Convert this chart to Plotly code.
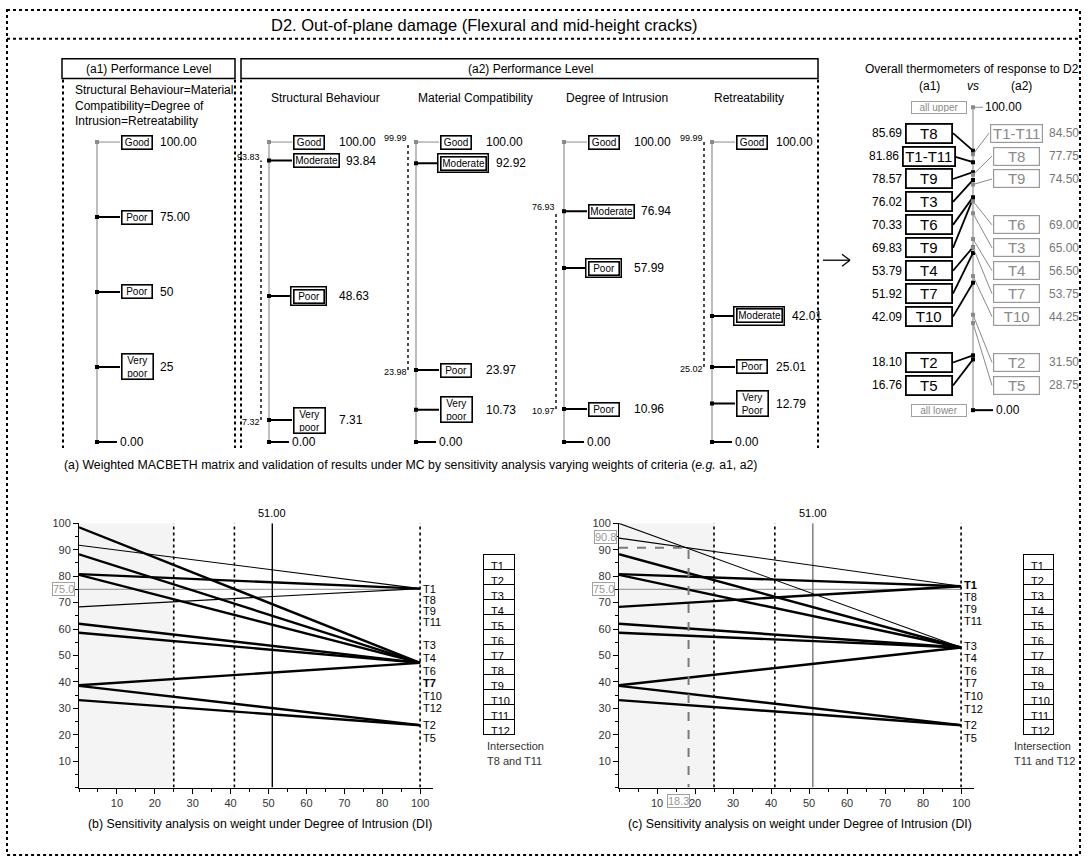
import plotly.graph_objects as go

W, H = 1088, 861
FONT = "Liberation Sans, Arial, Helvetica, sans-serif"

# ----------------------------- data -----------------------------
TITLE = "D2. Out-of-plane damage (Flexural and mid-height cracks)"

A1_LEVELS = ["Good", "Poor", "Poor", "Very<br>poor"]
A1_SCORES = [100, 75, 50, 25]
A1_VALUE_TEXT = ["100.00", "75.00", "50", "25"]

CRITERIA = ["Structural Behaviour", "Material Compatibility", "Degree of Intrusion", "Retreatability"]
SB_LEVELS = ["Good", "Moderate", "Poor", "Very<br>poor"]
SB_SCORES = [100.00, 93.84, 48.63, 7.31]
MC_LEVELS = ["Good", "Moderate", "Poor", "Very<br>poor"]
MC_SCORES = [100.00, 92.92, 23.97, 10.73]
DI_LEVELS = ["Good", "Moderate", "Poor", "Poor"]
DI_SCORES = [100.00, 76.94, 57.99, 10.96]
RT_LEVELS = ["Good", "Moderate", "Poor", "Very<br>Poor"]
RT_SCORES = [100.00, 42.01, 25.01, 12.79]
CURRENT_IDX = [2, 1, 2, 1]            # level highlighted with a double frame
INTERVAL_HI = [93.83, 99.99, 76.93, 99.99]
INTERVAL_LO = [7.32, 23.98, 10.97, 25.02]

OV_A1_LABELS = ["T8", "T1-T11", "T9", "T3", "T6", "T9", "T4", "T7", "T10", "T2", "T5"]
OV_A1_SCORES = [85.69, 81.86, 78.57, 76.02, 70.33, 69.83, 53.79, 51.92, 42.09, 18.10, 16.76]
OV_A2_LABELS = ["T1-T11", "T8", "T9", "T6", "T3", "T4", "T7", "T10", "T2", "T5"]
OV_A2_SCORES = [84.50, 77.75, 74.50, 69.00, 65.00, 56.50, 53.75, 44.25, 31.50, 28.75]

# sensitivity analysis: overall score at weight 0 and at weight 100
WEIGHT_MIN, WEIGHT_MAX = 0, 100
B_START = [98.5, 91.7, 88.3, 80.8, 80.5, 68.4, 62.0, 58.6, 38.7, 38.5, 33.1]
B_END = [47.2, 75.3, 47.2, 75.3, 47.2, 75.3, 47.2, 47.2, 47.2, 23.6, 23.6]
B_THIN = [False, True, False, False, False, True, False, False, False, False, False]
C_START = [100.0, 94.4, 88.3, 80.8, 80.5, 68.4, 62.0, 58.6, 38.7, 38.5, 33.1]
C_END = [53.0, 76.2, 53.0, 76.2, 53.0, 76.2, 53.0, 53.0, 53.0, 23.6, 23.6]
C_THIN = [True, True, False, False, False, False, False, False, False, False, False]
CURRENT_WEIGHT = 51.0
WEIGHT_THRESHOLDS = [25, 41]
REF_SCORE = 75.0
C_INTERSECT_W = 18.3
C_INTERSECT_S = 90.8
END_LABEL_GROUPS = [["T1", "T8", "T9", "T11"],
                    ["T3", "T4", "T6", "T7", "T10", "T12"],
                    ["T2", "T5"]]
B_GROUP_ENDS = [75.3, 47.2, 23.6]
C_GROUP_ENDS = [76.2, 53.0, 23.6]
OPTIONS = ["T%d" % i for i in range(1, 13)]
X_TICKS = [10, 20, 30, 40, 50, 60, 70, 80, 100]
Y_TICKS = [10, 20, 30, 40, 50, 60, 70, 80, 90, 100]

# ----------------------------- layout constants -----------------------------
COL_AXIS_X = [97, 269, 416, 564, 712]      # pixel x of each thermometer
TOP_ZERO_PX, TOP_PX_PER = 439, 3.02       # score 0 pixel row, px per score unit
OV_AXIS_X, OV_ZERO_PX, OV_PX_PER = 973, 407, 3.05
LEFT_SLOTS = [0, 1, 2, 3, 4, 5, 6, 7, 8, 10, 11]
RIGHT_SLOTS = [0, 1, 2, 4, 5, 6, 7, 8, 10, 11]
SLOT_TOP_PX, SLOT_STEP_PX = 128, 23.1
DY = -4                  # vertical nudge of the upper panel texts/frames
AXIS_BREAK = 80          # weight axis is compressed 2:1 above this weight (as in the original)


def wpos(w):
    """Position of a weight on the (compressed above 80) horizontal axis."""
    return w if w <= AXIS_BREAK else AXIS_BREAK + (w - AXIS_BREAK) / 2.0


fig = go.Figure()
annotations, shapes = [], []


def add_ann(x, y, text, size=12, color="black", xanchor="center", yanchor="middle",
            xref="paper", yref="paper", **kw):
    if xref == "paper":
        x = x / W
    if yref == "paper":
        y = 1 - y / H
    annotations.append(dict(x=x, y=y, xref=xref, yref=yref, text=text, showarrow=False,
                            xanchor=xanchor, yanchor=yanchor,
                            font=dict(family=FONT, size=size, color=color), **kw))


def paper_line(x0, y0, x1, y1, width=2, dash="dot", color="black"):
    shapes.append(dict(type="line", xref="paper", yref="paper", x0=x0 / W, y0=1 - y0 / H,
                       x1=x1 / W, y1=1 - y1 / H, line=dict(color=color, width=width, dash=dash)))


def paper_rect(x0, y0, x1, y1, width=1.5, dash="solid"):
    shapes.append(dict(type="rect", xref="paper", yref="paper", x0=x0 / W, y0=1 - y0 / H,
                       x1=x1 / W, y1=1 - y1 / H, line=dict(color="black", width=width, dash=dash)))


def seg(xs, ys, xa, ya, color="black", width=1.0, dash="solid", mode="lines", marker=None):
    fig.add_trace(go.Scatter(x=xs, y=ys, xaxis=xa, yaxis=ya, mode=mode,
                             line=dict(color=color, width=width, dash=dash),
                             marker=marker or dict(size=1), hoverinfo="skip", showlegend=False))


# ----------------------------- frames and titles -----------------------------
paper_rect(7, 8 + DY, 1080, 855, width=2, dash="dot")
paper_line(7, 37 + DY, 1080, 37 + DY)
add_ann(484, 23 + DY, TITLE, size=16.5)
paper_rect(62, 57 + DY, 235, 77 + DY)
paper_rect(241, 57 + DY, 818, 77 + DY)
add_ann(148, 67 + DY, "(a1) Performance Level", size=12)
add_ann(530, 67 + DY, "(a2) Performance Level", size=12)
for vx in [63, 235, 241, 818]:
    paper_line(vx, 78 + DY, vx, 445)
add_ann(73, 80 + DY, "Structural Behaviour=Material<br>Compatibility=Degree of<br>Intrusion=Retreatability",
        size=12, xanchor="left", yanchor="top", align="left")
for cx, name in zip(COL_AXIS_X[1:], CRITERIA):
    add_ann(cx, 97 + DY, name, size=12, xanchor="left")
add_ann(62, 466 + DY, "(a) Weighted MACBETH matrix and validation of results under MC by sensitivity "
        "analysis varying weights of criteria (<i>e.g.</i> a1, a2)", size=12.3, xanchor="left")

# ----------------------------- thermometer columns -----------------------------
BOX_W = {"Good": 27, "Moderate": 42, "Poor": 27, "Very<br>poor": 28, "Very<br>Poor": 28}


def column(ax_x, levels, scores, value_text, current=None, lo=None, hi=None, value_dx=68):
    seg([ax_x, ax_x], [0, 100], "x", "y", color="#9a9a9a", width=1.3)
    for i, (lev, s, vt) in enumerate(zip(levels, scores, value_text)):
        top = i == 0
        col = "#8a8a8a" if top else "black"
        seg([ax_x, ax_x + 23], [s, s], "x", "y", color=col, width=1 if top else 2)
        seg([ax_x], [s], "x", "y", mode="markers",
            marker=dict(symbol="square", size=4, color=col))
        w = BOX_W[lev]
        two = "<br>" in lev
        h = 22 if two else 10
        tot = w + 6
        cx = ax_x + 23 + tot / 2
        is_cur = current is not None and i == current
        if is_cur:
            annotations.append(dict(x=cx, y=s, xref="x", yref="y", text="", showarrow=False,
                                    width=w + 5, height=h + 5, borderpad=1, borderwidth=1.5,
                                    bordercolor="black", bgcolor="white"))
        annotations.append(dict(x=cx, y=s, xref="x", yref="y", text=lev, showarrow=False,
                                width=w, height=h, borderpad=1, borderwidth=1.6,
                                bordercolor="black", bgcolor="white",
                                font=dict(family=FONT, size=10, color="black")))
        right = ax_x + 23 + tot + (3 if is_cur else 0)
        vx = max(ax_x + value_dx, right + 4)
        add_ann(vx, s, vt, size=12, xanchor="left", xref="x", yref="y")
    seg([ax_x, ax_x + 20], [0, 0], "x", "y", color="black", width=2)
    seg([ax_x], [0], "x", "y", mode="markers", marker=dict(symbol="square", size=4, color="black"))
    add_ann(ax_x + 21, 0, "0.00", size=12, xanchor="left", xref="x", yref="y")
    if lo is not None:
        dx = ax_x - 8
        seg([dx, dx], [lo, hi], "x", "y", color="black", width=1.4, dash="dot")
        add_ann(dx + 1, hi, "%.2f" % hi, size=9, xanchor="right", xref="x", yref="y", yshift=4)
        add_ann(dx + 1, lo, "%.2f" % lo, size=9, xanchor="right", xref="x", yref="y", yshift=-2)


column(COL_AXIS_X[0], A1_LEVELS, A1_SCORES, A1_VALUE_TEXT, value_dx=61)
for k, (lv, sc) in enumerate([(SB_LEVELS, SB_SCORES), (MC_LEVELS, MC_SCORES),
                              (DI_LEVELS, DI_SCORES), (RT_LEVELS, RT_SCORES)]):
    column(COL_AXIS_X[k + 1], lv, sc, ["%.2f" % v for v in sc], current=CURRENT_IDX[k],
           lo=INTERVAL_LO[k], hi=INTERVAL_HI[k], value_dx=62 if k == 3 else 68)

# ----------------------------- overall thermometer -----------------------------
add_ann(972, 67 + DY, "Overall thermometers of response to D2", size=12)
add_ann(929, 85 + DY, "(a1)", size=12)
add_ann(973, 85 + DY, "<i>vs</i>", size=12)
add_ann(1021, 85 + DY, "(a2)", size=12)
paper_line(823, 256, 850, 256, width=1.3, dash="solid")
paper_line(842, 250, 850, 256, width=1.3, dash="solid")
paper_line(842, 262, 850, 256, width=1.3, dash="solid")


def slot_score(k):
    return (OV_ZERO_PX - (SLOT_TOP_PX + SLOT_STEP_PX * k)) / OV_PX_PER


seg([OV_AXIS_X, OV_AXIS_X], [0, 100], "x2", "y2", color="#9a9a9a", width=1.3)
for txt, val in [("all upper", 100), ("all lower", 0)]:
    annotations.append(dict(x=939, y=val, xref="x2", yref="y2", text=txt, showarrow=False,
                            width=52, height=9, borderpad=1, borderwidth=1, bordercolor="#a0a0a0",
                            bgcolor="white", font=dict(family=FONT, size=10, color="#8a8a8a")))
seg([OV_AXIS_X, OV_AXIS_X + 10], [100, 100], "x2", "y2", color="#8a8a8a", width=1)
seg([OV_AXIS_X], [100], "x2", "y2", mode="markers", marker=dict(symbol="square", size=4, color="#8a8a8a"))
add_ann(OV_AXIS_X + 10, 100, "100.00", size=12, xanchor="left", xref="x2", yref="y2")
seg([OV_AXIS_X, OV_AXIS_X + 20], [0, 0], "x2", "y2", color="black", width=2)
seg([OV_AXIS_X], [0], "x2", "y2", mode="markers", marker=dict(symbol="square", size=4, color="black"))
add_ann(OV_AXIS_X + 21, 0, "0.00", size=12, xanchor="left", xref="x2", yref="y2")

for lab, sc, k in zip(OV_A1_LABELS, OV_A1_SCORES, LEFT_SLOTS):
    ys = slot_score(k)
    half = 27 if len(lab) > 3 else 24
    seg([929 + 24, OV_AXIS_X], [ys, sc], "x2", "y2", color="black", width=1.8)
    seg([OV_AXIS_X], [sc], "x2", "y2", mode="markers", marker=dict(symbol="square", size=4, color="black"))
    annotations.append(dict(x=929, y=ys, xref="x2", yref="y2", text=lab, showarrow=False,
                            width=2 * half - 6, height=15, borderpad=1, borderwidth=1.8,
                            bordercolor="black", bgcolor="white",
                            font=dict(family=FONT, size=15, color="black")))
    add_ann(929 - half - 1, ys, "%.2f" % sc, size=12, xanchor="right", xref="x2", yref="y2")

for lab, sc, k in zip(OV_A2_LABELS, OV_A2_SCORES, RIGHT_SLOTS):
    ys = slot_score(k)
    half = 27 if len(lab) > 3 else 24
    seg([OV_AXIS_X, 1016 - half], [sc, ys], "x2", "y2", color="#8a8a8a", width=1)
    seg([OV_AXIS_X], [sc], "x2", "y2", mode="markers", marker=dict(symbol="square", size=4, color="#8a8a8a"))
    annotations.append(dict(x=1016, y=ys, xref="x2", yref="y2", text=lab, showarrow=False,
                            width=2 * half - 5, height=15, borderpad=1, borderwidth=1.2,
                            bordercolor="#9a9a9a", bgcolor="white",
                            font=dict(family=FONT, size=15, color="#8a8a8a")))
    add_ann(1047, ys, "%.2f" % sc, size=12, color="#777777", xanchor="left", xref="x2", yref="y2")

# ----------------------------- sensitivity charts -----------------------------


def sens_chart(xa, ya, starts, ends, thin, group_ends, lead_shifts, steps, bold, line51_color,
               table_x, inter_x, inter_text, caption, cap_x, intersect=None):
    x0p, x1p = wpos(WEIGHT_MIN), wpos(WEIGHT_MAX)
    shapes.append(dict(type="rect", xref=xa, yref=ya, x0=x0p, x1=wpos(WEIGHT_THRESHOLDS[0]),
                       y0=0, y1=100, fillcolor="#f4f4f4", line=dict(width=0), layer="below"))
    seg([x0p, x1p], [REF_SCORE, REF_SCORE], xa, ya, color="#a0a0a0", width=1.2)
    for t in WEIGHT_THRESHOLDS + [WEIGHT_MAX]:
        seg([wpos(t), wpos(t)], [0, 100], xa, ya, color="black", width=1.6, dash="dot")
    cw = wpos(CURRENT_WEIGHT)
    seg([cw, cw], [0, 100], xa, ya, color=line51_color, width=1.4)
    add_ann(cw, 100, "%.2f" % CURRENT_WEIGHT, size=11, xref=xa, yref=ya,
            yanchor="bottom", yshift=2)
    for s0, s1, th in zip(starts, ends, thin):
        seg([x0p, x1p], [s0, s1], xa, ya, color="black", width=1.1 if th else 2.4)
    if intersect is not None:
        wv, sv = intersect
        seg([x0p, wpos(wv), wpos(wv)], [sv, sv, 0], xa, ya, color="#7a7a7a", width=2, dash="dash")
        annotations.append(dict(x=x0p, y=sv, xref=xa, yref=ya, text="%.1f" % sv, showarrow=False,
                                xanchor="right", xshift=-2, yshift=11, borderpad=0, borderwidth=1,
                                bordercolor="#a0a0a0", bgcolor="white",
                                font=dict(family=FONT, size=11, color="#999999")))
        annotations.append(dict(x=wpos(wv), y=0, xref=xa, yref=ya, text="%.1f" % wv, showarrow=False,
                                xanchor="right", xshift=1, yanchor="top", yshift=-6, borderpad=0,
                                borderwidth=1, bordercolor="#a0a0a0", bgcolor="white",
                                font=dict(family=FONT, size=11, color="#999999")))
    annotations.append(dict(x=x0p, y=REF_SCORE, xref=xa, yref=ya, text="%.1f" % REF_SCORE,
                            showarrow=False, xanchor="right", xshift=-4, borderpad=0, borderwidth=1,
                            bordercolor="#a0a0a0", bgcolor="white",
                            font=dict(family=FONT, size=11, color="#999999")))
    for grp, ge, lead, st in zip(END_LABEL_GROUPS, group_ends, lead_shifts, steps):
        for j, lab in enumerate(grp):
            txt = "<b>%s</b>" % lab if lab == bold else lab
            add_ann(x1p, ge, txt, size=11, xanchor="left", xref=xa, yref=ya, xshift=1,
                    yshift=lead - j * st)
    fig.add_trace(go.Table(
        domain=dict(x=[table_x / W, (table_x + 31) / W], y=[1 - 738 / H, 1 - 552 / H]),
        columnwidth=[1],
        header=dict(values=[OPTIONS[0]], height=15, align="left", fill=dict(color="white"),
                    line=dict(color="black", width=1), font=dict(family=FONT, size=11, color="black")),
        cells=dict(values=[OPTIONS[1:]], height=15, align="left", fill=dict(color="white"),
                   line=dict(color="black", width=1), font=dict(family=FONT, size=11, color="black"))))
    add_ann(inter_x, 745, "Intersection", size=11, color="#333333", xanchor="left")
    add_ann(inter_x, 760, inter_text, size=11, color="#333333", xanchor="left")
    add_ann(cap_x, 824, caption, size=12.3)


sens_chart("x3", "y3", B_START, B_END, B_THIN, B_GROUP_ENDS, [0, 17.5, 0], [11, 12.6, 13], "T7",
           "black", 483, 485, "T8 and T11",
           "(b) Sensitivity analysis on weight under Degree of Intrusion (DI)", 260)
sens_chart("x4", "y4", C_START, C_END, C_THIN, C_GROUP_ENDS, [1, 2, 0], [12, 12.6, 13], "T1",
           "#777777", 1023, 1012, "T11 and T12",
           "(c) Sensitivity analysis on weight under Degree of Intrusion (DI)", 800,
           intersect=(C_INTERSECT_W, C_INTERSECT_S))

# ----------------------------- axes -----------------------------
hidden = dict(visible=False, showgrid=False, zeroline=False, fixedrange=True)
top_dom = [1 - 452 / H, 1 - 85 / H]
top_rng = [(TOP_ZERO_PX - 452) / TOP_PX_PER, (TOP_ZERO_PX - 85) / TOP_PX_PER]
ov_dom = [1 - 425 / H, 1 - 95 / H]
ov_rng = [(OV_ZERO_PX - 425) / OV_PX_PER, (OV_ZERO_PX - 95) / OV_PX_PER]

axis_font = dict(family=FONT, size=11, color="#333333")


def sens_x(dom):
    return dict(domain=dom, range=[0, wpos(WEIGHT_MAX) + 3.4], tickmode="array",
                tickvals=[wpos(v) for v in X_TICKS], ticktext=[str(v) for v in X_TICKS],
                ticks="outside", ticklen=5, tickwidth=1,
                tickcolor="black", showline=True, linecolor="black", linewidth=1, showgrid=False,
                zeroline=False, tickfont=axis_font, fixedrange=True,
                minor=dict(ticks="outside", ticklen=3, dtick=5, tick0=0, tickcolor="black", showgrid=False))


def sens_y(dom, anchor):
    return dict(domain=dom, range=[0, 100], tickmode="array", tickvals=Y_TICKS,
                ticks="outside", ticklen=5, tickwidth=1, tickcolor="black", showline=True,
                linecolor="black", linewidth=1, showgrid=False, zeroline=False, tickfont=axis_font,
                anchor=anchor, fixedrange=True,
                minor=dict(ticks="outside", ticklen=3, dtick=5, tick0=0, tickcolor="black", showgrid=False))


bot_dom = [1 - 787 / H, 1 - 521 / H]
fig.update_layout(
    width=W, height=H, margin=dict(l=0, r=0, t=0, b=0),
    paper_bgcolor="white", plot_bgcolor="rgba(0,0,0,0)",
    showlegend=False,
    font=dict(family=FONT, size=12, color="black"),
    xaxis=dict(domain=[0, 1], range=[0, W], anchor="y", **hidden),
    yaxis=dict(domain=top_dom, range=top_rng, anchor="x", **hidden),
    xaxis2=dict(domain=[0, 1], range=[0, W], anchor="y2", **hidden),
    yaxis2=dict(domain=ov_dom, range=ov_rng, anchor="x2", **hidden),
    xaxis3=dict(anchor="y3", **sens_x([79 / W, 433 / W])),
    yaxis3=sens_y(bot_dom, "x3"),
    xaxis4=dict(anchor="y4", **sens_x([619 / W, 974 / W])),
    yaxis4=sens_y(bot_dom, "x4"),
    annotations=annotations,
    shapes=shapes,
)

POST = ("document.documentElement.style.margin='0';document.body.style.margin='0';"
        "document.body.style.padding='0';"
        "var gds=document.getElementsByClassName('plotly-graph-div');"
        "for(var i=0;i<gds.length;i++){gds[i].style.position='absolute';"
        "gds[i].style.left='0px';gds[i].style.top='0px';}")
fig.write_html("out.html", post_script=POST, config={"displayModeBar": False})
